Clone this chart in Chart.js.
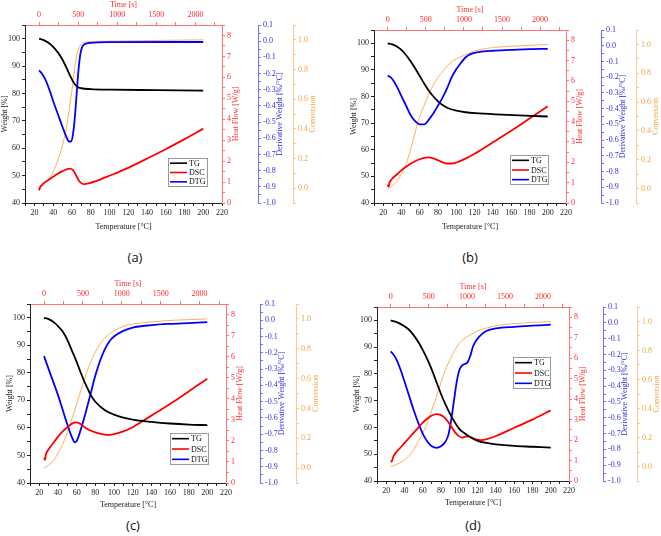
<!DOCTYPE html>
<html>
<head>
<meta charset="utf-8">
<script src="https://cdn.jsdelivr.net/npm/chart.js@4.4.1/dist/chart.umd.min.js"></script>
<style>
  html, body { margin: 0; padding: 0; background: #fff; }
  body { width: 661px; height: 536px; position: relative; overflow: hidden; }
  canvas { position: absolute; }
  .cap { position: absolute; font: 13px 'Open Sans', 'Liberation Sans', sans-serif; color: #111;
         transform: translate(-50%, -50%); white-space: nowrap; }
</style>
</head>
<body>
<canvas id="chartA" width="330" height="238" style="left:0;top:0"></canvas>
<canvas id="chartB" width="331" height="238" style="left:330px;top:0"></canvas>
<canvas id="chartC" width="330" height="245" style="left:0;top:270px"></canvas>
<canvas id="chartD" width="331" height="243" style="left:330px;top:270px"></canvas>
<div class="cap" style="left:135px;top:257px">(a)</div>
<div class="cap" style="left:470px;top:257px">(b)</div>
<div class="cap" style="left:133px;top:525px">(c)</div>
<div class="cap" style="left:473px;top:525px">(d)</div>
<script>
// ---- data (temperature in °C) ----
// (a)
const aTgTemp = [25, 30, 35, 40, 45, 50, 55, 58, 61, 64, 67, 70, 80, 100, 150, 200];
const aTg = [100, 99.5, 98.5, 97, 95, 92.3, 88.8, 86.5, 84.5, 83, 82.2, 81.9, 81.6, 81.4, 81.2, 81];
const aDscTemp = [25, 26, 28, 30, 35, 40, 45, 50, 55, 58, 61, 64, 67, 70, 73, 78, 90, 100, 120, 140, 160, 180, 200];
const aDsc = [0.6, 0.75, 0.85, 0.95, 1.1, 1.25, 1.4, 1.52, 1.62, 1.64, 1.58, 1.36, 1.1, 0.95, 0.9, 0.94, 1.12, 1.3, 1.68, 2.12, 2.57, 3.05, 3.55];
const aDtgTemp = [25, 28, 32, 36, 40, 45, 50, 54, 57, 59, 61, 63, 65, 67, 69, 71, 74, 80, 100, 200];
const aDtg = [-0.18, -0.2, -0.24, -0.3, -0.37, -0.45, -0.53, -0.59, -0.62, -0.62, -0.58, -0.48, -0.33, -0.18, -0.08, -0.035, -0.018, -0.01, -0.006, -0.005];
const aConvTemp = [25, 30, 35, 40, 45, 50, 55, 60, 63, 66, 70, 75, 90, 140, 200];
const aConv = [0, 0.025, 0.06, 0.11, 0.19, 0.29, 0.44, 0.66, 0.81, 0.92, 0.97, 0.985, 0.99, 0.995, 1.0];
// (b)
const bTgTemp = [25, 30, 35, 40, 45, 50, 55, 60, 65, 70, 75, 80, 85, 90, 100, 110, 125, 150, 175, 200];
const bTg = [100, 99.6, 98.8, 97.5, 95.6, 93.3, 90.6, 87.7, 84.8, 82.2, 80, 78.2, 76.8, 75.8, 74.7, 74.1, 73.7, 73.2, 72.8, 72.5];
const bDscTemp = [25, 26, 27, 30, 35, 40, 45, 50, 55, 60, 65, 70, 75, 80, 85, 90, 95, 100, 110, 120, 140, 160, 180, 200];
const bDsc = [0.9, 0.8, 1.0, 1.2, 1.4, 1.6, 1.78, 1.93, 2.05, 2.15, 2.22, 2.24, 2.19, 2.1, 2.0, 1.94, 1.94, 1.99, 2.18, 2.42, 2.98, 3.55, 4.15, 4.75];
const bDtgTemp = [25, 28, 31, 35, 40, 45, 50, 55, 60, 65, 70, 75, 80, 85, 90, 95, 100, 105, 110, 115, 125, 140, 160, 180, 200];
const bDtg = [-0.19, -0.2, -0.22, -0.26, -0.32, -0.38, -0.44, -0.48, -0.5, -0.5, -0.47, -0.43, -0.38, -0.33, -0.27, -0.2, -0.15, -0.11, -0.075, -0.055, -0.04, -0.032, -0.027, -0.022, -0.02];
const bConvTemp = [25, 30, 35, 40, 45, 50, 55, 60, 65, 70, 75, 80, 85, 90, 100, 107, 120, 143, 170, 200];
const bConv = [0, 0.02, 0.05, 0.1, 0.17, 0.27, 0.39, 0.5, 0.58, 0.655, 0.72, 0.77, 0.81, 0.85, 0.9, 0.92, 0.955, 0.98, 0.99, 1.0];
// (c)
const cTgTemp = [25, 30, 35, 40, 45, 50, 55, 60, 65, 70, 75, 80, 90, 100, 110, 120, 140, 160, 180, 200];
const cTg = [100, 99.5, 98.5, 97, 95, 92, 88, 84, 79.5, 75.5, 72, 69.5, 66.5, 64.8, 63.7, 63, 62.2, 61.6, 61.2, 61];
const cDscTemp = [25, 26, 27, 30, 35, 40, 45, 50, 55, 60, 65, 70, 80, 90, 95, 100, 110, 120, 140, 160, 180, 200];
const cDsc = [1.2, 1.1, 1.35, 1.6, 1.9, 2.2, 2.45, 2.65, 2.82, 2.88, 2.78, 2.6, 2.4, 2.3, 2.29, 2.32, 2.45, 2.65, 3.2, 3.75, 4.35, 4.95];
const cDtgTemp = [25, 30, 35, 40, 45, 50, 55, 58, 61, 65, 70, 75, 80, 85, 90, 95, 100, 110, 120, 140, 160, 180, 200];
const cDtg = [-0.22, -0.3, -0.38, -0.46, -0.55, -0.64, -0.72, -0.75, -0.73, -0.66, -0.56, -0.45, -0.34, -0.25, -0.18, -0.13, -0.1, -0.065, -0.045, -0.03, -0.022, -0.017, -0.012];
const cConvTemp = [25, 30, 35, 40, 45, 50, 55, 60, 65, 70, 75, 80, 90, 100, 110, 120, 140, 160, 180, 200];
const cConv = [0, 0.02, 0.05, 0.1, 0.16, 0.24, 0.33, 0.43, 0.53, 0.63, 0.71, 0.78, 0.87, 0.92, 0.95, 0.965, 0.98, 0.99, 0.995, 1.0];
// (d)
const dTgTemp = [25, 30, 35, 40, 45, 50, 55, 60, 65, 70, 75, 80, 85, 90, 95, 100, 105, 110, 120, 130, 140, 160, 180, 200];
const dTg = [100, 99.5, 98.8, 97.8, 96.5, 94.5, 92, 89, 85.5, 81.5, 77, 72.5, 68.5, 65, 62, 59.5, 58, 56.8, 55, 54.2, 53.7, 53.1, 52.8, 52.5];
const dDscTemp = [25, 26, 28, 30, 35, 40, 45, 50, 55, 60, 65, 70, 75, 80, 85, 90, 95, 100, 103, 107, 110, 113, 118, 125, 130, 140, 160, 180, 200];
const dDsc = [1.0, 0.95, 1.2, 1.35, 1.6, 1.85, 2.1, 2.35, 2.6, 2.85, 3.05, 3.2, 3.27, 3.22, 3.05, 2.75, 2.4, 2.18, 2.12, 2.17, 2.18, 2.12, 2.03, 2.0, 2.05, 2.2, 2.6, 3.0, 3.45];
const dDtgTemp = [25, 28, 32, 36, 40, 45, 50, 55, 60, 65, 70, 75, 80, 85, 88, 91, 94, 97, 100, 103, 106, 109, 112, 115, 120, 125, 130, 140, 160, 180, 200];
const dDtg = [-0.18, -0.2, -0.24, -0.3, -0.37, -0.46, -0.55, -0.63, -0.7, -0.75, -0.78, -0.79, -0.78, -0.75, -0.71, -0.62, -0.5, -0.38, -0.3, -0.27, -0.26, -0.25, -0.21, -0.15, -0.1, -0.07, -0.05, -0.035, -0.025, -0.018, -0.012];
const dConvTemp = [25, 30, 35, 40, 45, 50, 55, 60, 65, 70, 75, 80, 85, 90, 95, 100, 110, 120, 130, 140, 160, 180, 200];
const dConv = [0, 0.01, 0.025, 0.045, 0.075, 0.115, 0.17, 0.23, 0.3, 0.39, 0.48, 0.58, 0.67, 0.74, 0.8, 0.85, 0.9, 0.935, 0.955, 0.97, 0.985, 0.993, 1.0];

// axis ranges and tick steps
const tempRange = [10, 220];
const timeRange = [-180, 2340];   // 12 s per °C, 0 s at 25 °C
const timeTicks = [0, 250, 500, 750, 1000, 1250, 1500, 1750, 2000, 2250];
const weightRange = [40, 105];
const heatRange = [0, 8.5];
const derivRange = [-1.0, 0.1];
const convRange = [-0.1, 1.1];
const seriesLabels = ['TG', 'DSC', 'DTG'];

const SERIF = "'Liberation Serif', 'Times New Roman', serif";
const RED_AX = '#ff7575', RED_TX = '#ff2a2a';
const BLUE_AX = '#7070ff', BLUE_TX = '#2e2ee0';
const OR_AX = '#ffc690', OR_TX = '#f5a045';

function pts(xs, ys) {
  return xs.map((x, i) => ({ x: x, y: ys[i] }));
}

function fixSize(size) {
  return function(scale) {
    if (scale.isHorizontal()) scale.height = size; else scale.width = size;
  };
}

function axis(position, range, step, size, lineColor, textColor, label, extra) {
  const o = {
    type: 'linear',
    position: position,
    min: range[0],
    max: range[1],
    afterFit: fixSize(size),
    border: { display: true, color: lineColor, width: 1 },
    grid: { drawOnChartArea: false, drawTicks: true, tickLength: 3, tickColor: lineColor },
    ticks: {
      stepSize: step,
      autoSkip: false,
      maxRotation: 0,
      padding: 2,
      color: textColor,
      font: { family: SERIF, size: 8 },
      callback: label
    }
  };
  return Object.assign(o, extra || {});
}

function makePanel(id, g, d) {
  const ctx = document.getElementById(id).getContext('2d');

  const sideTitles = [
    { id: 'yH', text: 'Heat Flow [W/g]', color: RED_TX, dx: 14 },
    { id: 'yD', text: 'Derivative Weight [%/\u00B0C]', color: BLUE_TX, dx: 22 },
    { id: 'yC', text: 'Conversion', color: OR_TX, dx: 20 }
  ];

  const extras = {
    id: 'extras',
    afterDraw(chart) {
      const c = chart.ctx;
      const area = chart.chartArea;
      c.save();
      // right-hand axis titles, read bottom to top
      c.font = '8px ' + SERIF;
      c.textAlign = 'center';
      c.textBaseline = 'middle';
      sideTitles.forEach(t => {
        const s = chart.scales[t.id];
        c.save();
        c.translate(s.left + t.dx, (area.top + area.bottom) / 2);
        c.rotate(-Math.PI / 2);
        c.fillStyle = t.color;
        c.fillText(t.text, 0, 0);
        c.restore();
      });
      // legend box inside the plot
      const lx = g.legend[0], ly = g.legend[1], lw = g.legend[2], lh = g.legend[3];
      c.fillStyle = '#fff';
      c.fillRect(lx, ly, lw, lh);
      c.strokeStyle = '#9a9a9a';
      c.lineWidth = 1;
      c.strokeRect(lx + 0.5, ly + 0.5, lw, lh);
      c.textAlign = 'left';
      const rowH = lh / 3;
      chart.data.datasets.slice(0, 3).forEach((ds, i) => {
        const yy = ly + rowH * (i + 0.5) + 0.5;
        c.strokeStyle = ds.borderColor;
        c.lineWidth = 1.6;
        c.beginPath();
        c.moveTo(lx + 2, yy);
        c.lineTo(lx + 19, yy);
        c.stroke();
        c.fillStyle = '#111';
        c.fillText(ds.label, lx + 21, yy + 0.5);
      });
      c.restore();
    }
  };

  const line = (label, data, color, width, axisId) => ({
    label: label,
    data: data,
    yAxisID: axisId,
    xAxisID: 'x',
    borderColor: color,
    borderWidth: width,
    pointRadius: 0,
    fill: false,
    cubicInterpolationMode: 'monotone'
  });

  return new Chart(ctx, {
    type: 'line',
    data: {
      datasets: [
        line(seriesLabels[0], pts(d.tgT, d.tg), '#000000', 1.8, 'yW'),
        line(seriesLabels[1], pts(d.dscT, d.dsc), '#ff0000', 1.8, 'yH'),
        line(seriesLabels[2], pts(d.dtgT, d.dtg), '#0000ff', 1.8, 'yD'),
        line('Conversion', pts(d.convT, d.conv), '#ffae5c', 1, 'yC')
      ]
    },
    options: {
      responsive: false,
      animation: false,
      events: [],
      layout: { padding: g.pad },
      plugins: { legend: { display: false }, tooltip: { enabled: false } },
      scales: {
        x: axis('bottom', tempRange, 10, g.bottom, '#222', '#222',
          v => (v % 20 === 0 ? v : ''),
          { title: { display: true, text: 'Temperature [\u00B0C]', color: '#222',
                     font: { family: SERIF, size: 8 }, padding: { top: 0, bottom: g.titleBottom } } }),
        xTime: axis('top', timeRange, 250, 25, RED_AX, RED_TX,
          v => (v % 500 === 0 ? String(v) : ''),
          { afterBuildTicks: scale => { scale.ticks = timeTicks.map(v => ({ value: v })); },
            title: { display: true, text: 'Time [s]', color: RED_TX,
                     font: { family: SERIF, size: 8 }, padding: { top: 0, bottom: 0 } } }),
        yW: axis('left', weightRange, 5, 25, '#222', '#222',
          v => (v % 10 === 0 ? v : ''),
          { title: { display: true, text: 'Weight [%]', color: '#222',
                     font: { family: SERIF, size: 8 }, padding: { top: 0, bottom: 0 } } }),
        yH: axis('right', heatRange, 0.5, g.red, RED_AX, RED_TX,
          v => (Number.isInteger(v) ? v : ''), { weight: 1 }),
        yD: axis('right', derivRange, 0.05, g.blue, BLUE_AX, BLUE_TX,
          v => (Math.round(v * 20) % 2 === 0 ? v.toFixed(1) : ''), { weight: 2 }),
        yC: axis('right', convRange, 0.1, g.orange, OR_AX, OR_TX,
          v => (v > -0.01 && v < 1.01 && Math.round(v * 10) % 2 === 0 ? v.toFixed(1) : ''), { weight: 3 })
      }
    },
    plugins: [extras]
  });
}

makePanel('chartA',
  { pad: { left: 0, top: 0, right: 0, bottom: 0 }, bottom: 35, titleBottom: 6, red: 36, blue: 35, orange: 37, legend: [168, 158, 39, 28] },
  { tgT: aTgTemp, tg: aTg, dscT: aDscTemp, dsc: aDsc, dtgT: aDtgTemp, dtg: aDtg, convT: aConvTemp, conv: aConv });

makePanel('chartB',
  { pad: { left: 19, top: 5, right: 0, bottom: 0 }, bottom: 35, titleBottom: 6, red: 35, blue: 35, orange: 25, legend: [180, 155, 38, 29] },
  { tgT: bTgTemp, tg: bTg, dscT: bDscTemp, dsc: bDsc, dtgT: bDtgTemp, dtg: bDtg, convT: bConvTemp, conv: bConv });

makePanel('chartC',
  { pad: { left: 5, top: 9, right: 0, bottom: 0 }, bottom: 32, titleBottom: 5, red: 34, blue: 36, orange: 34, legend: [170, 163, 38, 31] },
  { tgT: cTgTemp, tg: cTg, dscT: cDscTemp, dsc: cDsc, dtgT: cDtgTemp, dtg: cDtg, convT: cConvTemp, conv: cConv });

makePanel('chartD',
  { pad: { left: 22, top: 12, right: 0, bottom: 0 }, bottom: 32, titleBottom: 5, red: 34, blue: 34, orange: 24, legend: [183, 87, 37, 31] },
  { tgT: dTgTemp, tg: dTg, dscT: dDscTemp, dsc: dDsc, dtgT: dDtgTemp, dtg: dDtg, convT: dConvTemp, conv: dConv });
</script>
</body>
</html>
